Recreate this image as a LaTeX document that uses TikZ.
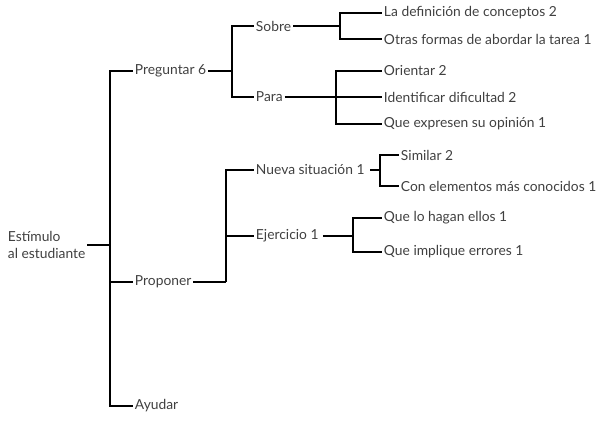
\documentclass[tikz,border=0pt]{standalone}
\usepackage{fontspec}
\setmainfont{Lato}
\begin{document}
\begin{tikzpicture}[x=0.03cm,y=-0.03cm,
    item/.style={anchor=west,inner sep=1.5pt,text=black!75,font=\fontsize{11.8}{14}\selectfont},
    branch/.style={line width=1.2pt,line join=miter}]
    \useasboundingbox (0,0) rectangle (611,432);
    % Root
    \node[item,align=left] (root) at (6,245) {Estímulo\\al estudiante};
    \coordinate (jroot) at (110,245);
    % First level
    \node[item] (preg) at (133,71) {Preguntar 6};
    \node[item] (prop) at (133,282) {Proponer};
    \node[item] (ayud) at (133,406) {Ayudar};
    % Preguntar
    \coordinate (jpreg) at (232,71);
    \node[item] (sobre) at (254,26) {Sobre};
    \node[item] (para) at (254,97) {Para};
    \coordinate (jsobre) at (340,26);
    \node[item] (defi) at (382,13) {La definición de conceptos 2};
    \node[item] (otras) at (382,39) {Otras formas de abordar la tarea 1};
    \coordinate (jpara) at (336,97);
    \node[item] (orie) at (382,71) {Orientar 2};
    \node[item] (iden) at (382,97) {Identificar dificultad 2};
    \node[item] (expr) at (382,124) {Que expresen su opinión 1};
    % Proponer
    \coordinate (jprop) at (226,282);
    \node[item] (nueva) at (254,170) {Nueva situación 1};
    \node[item] (ejer) at (254,236) {Ejercicio 1};
    \coordinate (jnueva) at (380,170);
    \node[item] (simi) at (399,155) {Similar 2};
    \node[item] (cone) at (399,186) {Con elementos más conocidos 1};
    \coordinate (jejer) at (353,236);
    \node[item] (haga) at (382,218) {Que lo hagan ellos 1};
    \node[item] (impl) at (382,252) {Que implique errores 1};
    % Connectors
    \draw[branch] (root.east) -- (jroot);
    \foreach \c in {preg,prop,ayud} \draw[branch] (jroot) |- (\c.west);
    \draw[branch] (preg.east) -- (jpreg);
    \foreach \c in {sobre,para} \draw[branch] (jpreg) |- (\c.west);
    \draw[branch] (sobre.east) -- (jsobre);
    \foreach \c in {defi,otras} \draw[branch] (jsobre) |- (\c.west);
    \draw[branch] (para.east) -- (jpara);
    \foreach \c in {orie,iden,expr} \draw[branch] (jpara) |- (\c.west);
    \draw[branch] (prop.east) -- (jprop);
    \foreach \c in {nueva,ejer} \draw[branch] (jprop) |- (\c.west);
    \draw[branch] ([xshift=3pt]nueva.east) -- (jnueva);
    \foreach \c in {simi,cone} \draw[branch] (jnueva) |- (\c.west);
    \draw[branch] ([xshift=2pt]ejer.east) -- (jejer);
    \foreach \c in {haga,impl} \draw[branch] (jejer) |- (\c.west);
\end{tikzpicture}
\end{document}
